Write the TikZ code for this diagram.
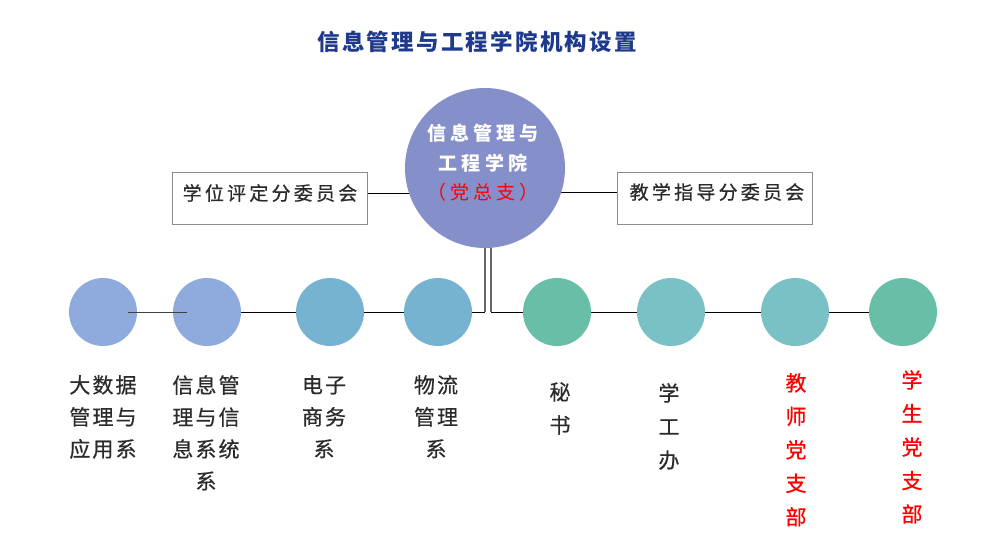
\documentclass[tikz,border=0pt]{standalone}
\usepackage{fontspec}
\setmainfont{Noto Sans CJK SC}
\newfontfamily\fLab[LetterSpace=10,FakeBold=0.6]{Noto Sans CJK SC}
\newfontfamily\fBox[LetterSpace=17,FakeBold=0.6]{Noto Sans CJK SC}
\newfontfamily\fCen[LetterSpace=22]{Noto Sans CJK SC}
\newfontfamily\fTit[LetterSpace=10]{Noto Sans CJK SC}
\usetikzlibrary{backgrounds,calc}
\definecolor{titblue}{HTML}{1F3A8C}
\definecolor{topc}{HTML}{8590CA}
\definecolor{cA}{HTML}{8FAADC}
\definecolor{cB}{HTML}{76B3D1}
\definecolor{cC}{HTML}{68BEA6}
\definecolor{cD}{HTML}{7AC1C6}
\definecolor{txt}{HTML}{2B2B2B}
\definecolor{boxline}{HTML}{8C8C8C}
\tikzset{
  dot/.style={circle, minimum size=68pt, inner sep=0pt, draw=none, fill=#1},
  boxed/.style={draw=boxline, line width=1pt, minimum width=195pt, minimum height=52pt, inner sep=0pt},
  boxtext/.style={font=\fBox\fontsize{19}{22}\selectfont, text=txt, inner sep=0pt},
  lab/.style={font=\fLab\fontsize{21}{32}\selectfont, text=txt, align=center, anchor=north, inner sep=0pt},
  labr/.style={font=\fLab\fontsize{21}{33.5}\selectfont, text=red, align=center, anchor=north, inner sep=0pt},
  conn/.style={line width=1pt, black},
  vconn/.style={line width=1.2pt, black!60},
}
\begin{document}
\begin{tikzpicture}[x=1pt,y=-1pt]
\useasboundingbox (0,0) rectangle (1000,558);
% title
\node[font=\fTit\bfseries\fontsize{22.5}{26}\selectfont, text=titblue, inner sep=0pt] (title) at (477,42) {信息管理与工程学院机构设置};
% top circle
\node[circle, minimum size=160pt, inner sep=0pt, fill=topc] (top) at (485,168) {};
\node[font=\fCen\bfseries\fontsize{19}{22}\selectfont, text=white, inner sep=0pt] (t1) at (483,133) {信息管理与};
\node[font=\fCen\bfseries\fontsize{19}{22}\selectfont, text=white, inner sep=0pt] (t2) at (483,163) {工程学院};
\node[font=\fCen\fontsize{19}{22}\selectfont, text=red, inner sep=0pt] (t3) at (483,192) {（党总支）};
% side boxes
\node[boxed] (lbox) at (269.5,198) {};
\node[boxtext] (ltext) at (270,193) {学位评定分委员会};
\node[boxed] (rbox) at (715,198) {};
\node[boxtext] (rtext) at (717,192) {教学指导分委员会};
% bottom circles
\node[dot=cA] (c1) at (103,312) {};
\node[dot=cA] (c2) at (207,312) {};
\node[dot=cB] (c3) at (330,312) {};
\node[dot=cB] (c4) at (438,312) {};
\node[dot=cC] (c5) at (557,312) {};
\node[dot=cD] (c6) at (671,312) {};
\node[dot=cD] (c7) at (795,312) {};
\node[dot=cC] (c8) at (903,312) {};
\coordinate (jl) at (485,312);
\coordinate (jr) at (491,312);
% connectors behind
\begin{pgfonlayer}{background}
\draw[conn] (lbox.east |- ltext) -- (ltext -| top.center);
\draw[conn] (rtext -| top.center) -- (rbox.west |- rtext);
\draw[conn] (c2) -- (c3);
\draw[conn] (c3) -- (c4);
\draw[conn] (c4) -- (jl);
\draw[vconn] (jl) -- (top);
\draw[vconn] (jr |- top.center) -- (jr);
\draw[conn] (jr) -- (c5);
\draw[conn] (c5) -- (c6);
\draw[conn] (c6) -- (c7);
\draw[conn] (c7) -- (c8);
\end{pgfonlayer}
% short segment on top between c1 and c2
\draw[line width=1pt, black!75] ($(c1.center)+(25,0)$) -- ($(c2.center)+(-20,0)$);
% labels
\node[lab] (l1) at (103,375) {大数据\\管理与\\应用系};
\node[lab] (l2) at (206,375) {信息管\\理与信\\息系统\\系};
\node[lab] (l3) at (324,375) {电子\\商务\\系};
\node[lab] (l4) at (436,375) {物流\\管理\\系};
\node[lab, font=\fLab\fontsize{21}{33}\selectfont] (l5) at (560,382) {秘\\书};
\node[lab, font=\fLab\fontsize{21}{33.5}\selectfont] (l6) at (669,383) {学\\工\\办};
\node[labr] (l7) at (796,373) {教\\师\\党\\支\\部};
\node[labr] (l8) at (912,370) {学\\生\\党\\支\\部};
\end{tikzpicture}
\end{document}
